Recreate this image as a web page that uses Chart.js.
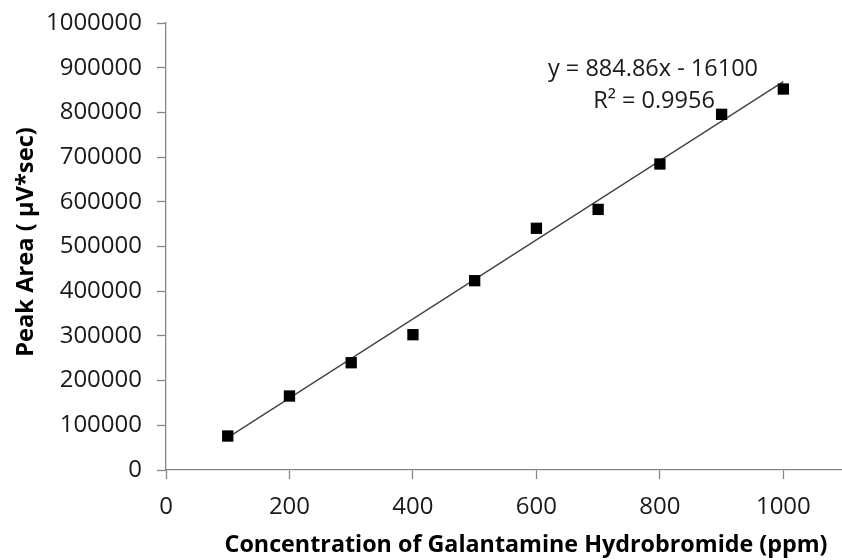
<!DOCTYPE html>
<html>
<head>
<meta charset="utf-8">
<title>Galantamine Hydrobromide calibration</title>
<script src="https://cdn.jsdelivr.net/npm/chart.js@4.4.1/dist/chart.umd.min.js"></script>
<style>
    html, body { margin: 0; padding: 0; background: #fff; overflow: hidden; }
    #wrap { position: relative; width: 842px; height: 560px; }
</style>
</head>
<body>
<div id="wrap"><canvas id="calChart"></canvas></div>
<script>
// values
const concentrations = [100, 200, 300, 400, 500, 600, 700, 800, 900, 1000];
const peakAreas = [76000, 165500, 240000, 302700, 423500, 540700, 583000, 684600, 795700, 852300];

// trend line ends, from y = 884.86x - 16100
const trendX = [100, 1000];
const trendY = [72386, 868760];

const xTickValues = [0, 200, 400, 600, 800, 1000];
const yTickValues = [0, 100000, 200000, 300000, 400000, 500000, 600000, 700000, 800000, 900000, 1000000];

const xTitle = 'Concentration of Galantamine Hydrobromide (ppm)';
const yTitle = 'Peak Area ( \u00B5V*sec)';
const equationLines = ['y = 884.86x - 16100', 'R\u00B2 = 0.9956'];

const FONT = '"Open Sans", "Liberation Sans", sans-serif';
const AXIS_GREY = '#868686';

// axis titles and the trend line equation
const textPlugin = {
    id: 'chartText',
    afterDraw(chart) {
        const ctx = chart.ctx;
        ctx.save();
        ctx.fillStyle = '#000';
        ctx.textAlign = 'center';
        ctx.textBaseline = 'middle';

        ctx.font = 'bold 23.3px ' + FONT;
        ctx.fillText(xTitle, 526, 545);

        ctx.save();
        ctx.translate(26, 242);
        ctx.rotate(-Math.PI / 2);
        ctx.font = 'bold 23.7px ' + FONT;
        ctx.fillText(yTitle, 0, 0);
        ctx.restore();

        ctx.font = '23.5px ' + FONT;
        ctx.fillStyle = '#1a1a1a';
        ctx.fillText(equationLines[0], 653, 69);
        ctx.fillText(equationLines[1], 654, 101);
        ctx.restore();
    }
};

// keep the plot box fixed, whatever the tick labels want
function noScalePadding(axis) {
    axis.paddingLeft = 0;
    axis.paddingRight = 0;
    axis.paddingTop = 0;
    axis.paddingBottom = 0;
}

const pointData = concentrations.map((x, i) => ({ x: x, y: peakAreas[i] }));
const trendData = trendX.map((x, i) => ({ x: x, y: trendY[i] }));

new Chart(document.getElementById('calChart'), {
    type: 'scatter',
    data: {
        datasets: [{
            label: 'Peak area',
            data: pointData,
            pointStyle: 'rect',
            pointRadius: 8,
            pointHoverRadius: 8,
            backgroundColor: '#000',
            borderColor: '#000',
            borderWidth: 0,
            order: 0
        }, {
            label: 'Linear fit',
            data: trendData,
            showLine: true,
            pointRadius: 0,
            borderColor: '#404040',
            borderWidth: 1.3,
            order: 1
        }]
    },
    options: {
        responsive: true,
        maintainAspectRatio: false,
        animation: false,
        devicePixelRatio: 1,
        layout: { autoPadding: false, padding: { top: 23, right: 0, bottom: 0, left: 0 } },
        plugins: {
            legend: { display: false },
            tooltip: { enabled: false }
        },
        scales: {
            x: {
                type: 'linear',
                min: 0,
                max: 1095,
                afterBuildTicks: (axis) => { axis.ticks = xTickValues.map(v => ({ value: v })); },
                afterFit: (axis) => { axis.height = 90; noScalePadding(axis); },
                border: { color: AXIS_GREY, width: 1.3 },
                grid: { drawOnChartArea: false, tickLength: 9, tickColor: AXIS_GREY, tickWidth: 1.3 },
                ticks: { color: '#1a1a1a', font: { family: FONT, size: 24 }, padding: 14, callback: (v) => String(v) }
            },
            y: {
                type: 'linear',
                min: 0,
                max: 1000000,
                afterBuildTicks: (axis) => { axis.ticks = yTickValues.map(v => ({ value: v })); },
                afterFit: (axis) => { axis.width = 166; noScalePadding(axis); },
                border: { color: AXIS_GREY, width: 1.3 },
                grid: { drawOnChartArea: false, tickLength: 9, tickColor: AXIS_GREY, tickWidth: 1.3 },
                ticks: { color: '#1a1a1a', font: { family: FONT, size: 24 }, padding: 15, callback: (v) => String(v) }
            }
        }
    },
    plugins: [textPlugin]
});
</script>
</body>
</html>
